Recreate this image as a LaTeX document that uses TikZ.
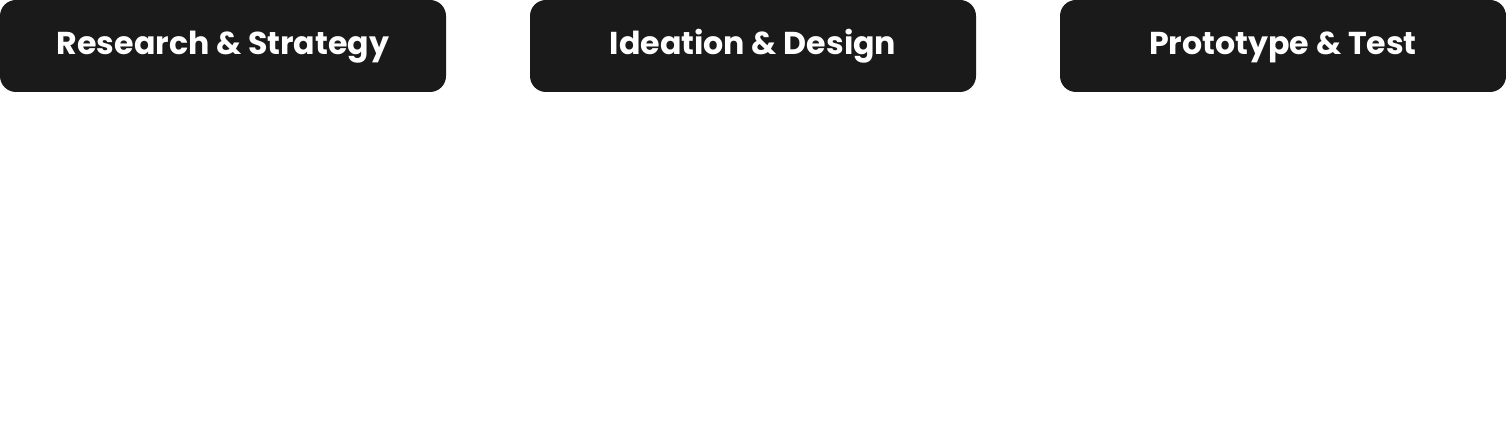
\documentclass[tikz,border=0pt]{standalone}
\usepackage{fontspec}
\setmainfont{Poppins}
\usetikzlibrary{calc}
\definecolor{stagedark}{HTML}{1A1A1A}

\begin{document}
\begin{tikzpicture}[
    stagebox/.style={fill=stagedark, rounded corners=0.32cm, inner sep=0pt, outer sep=0pt,
                     minimum width=8.92cm, minimum height=1.84cm, text=white,
                     text height=1.0em, text depth=0pt,
                     font=\fontsize{18}{20}\selectfont\bfseries}
  ]
    % canvas (1px = 0.02cm)
    \useasboundingbox (0,0) rectangle (30.12,8.78);

    % stages (width 8.92cm, centres at 4.46, 15.06, 25.66)
    \node[stagebox] (research) at (4.46,7.86)  {Research \& Strategy};
    \node[stagebox] (ideation) at (15.06,7.86) {Ideation \& Design};
    \node[stagebox] (proto)    at (25.66,7.86) {Prototype \& Test};
  \end{tikzpicture}
\end{document}
